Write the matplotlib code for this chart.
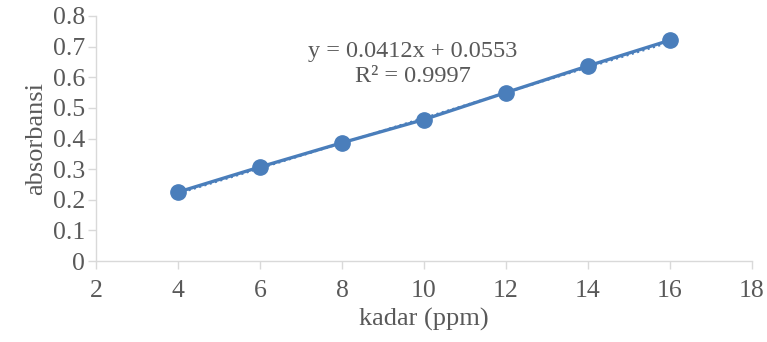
import matplotlib
matplotlib.use("Agg")
import matplotlib.pyplot as plt
import numpy as np
from matplotlib.patches import Arc

kadar = [4, 6, 8, 10, 12, 14, 16]
absorbansi = [0.225, 0.307, 0.386, 0.462, 0.550, 0.637, 0.721]
slope, intercept = 0.0412, 0.0553
eq_text = "y = 0.0412x + 0.0553\nR² = 0.9997"
xticks = [2, 4, 6, 8, 10, 12, 14, 16, 18]
yticks = [0, 0.1, 0.2, 0.3, 0.4, 0.5, 0.6, 0.7, 0.8]
ytick_labels = ["0", "0.1", "0.2", "0.3", "0.4", "0.5", "0.6", "0.7", "0.8"]

plt.rcParams['font.family'] = ['Liberation Serif', 'DejaVu Serif']
W, H = 767, 342
fig = plt.figure(figsize=(W/100, H/100), dpi=100)

# faint watermark arc
wm = fig.add_axes([0, 0, 1, 1], zorder=0)
wm.set_xlim(0, W); wm.set_ylim(H, 0); wm.axis('off')
wm.add_patch(Arc((420, 600), 720, 660, theta1=25, theta2=155, lw=18, color='#f1f1f1'))

ax = fig.add_axes([96/W, 1-261/H, (752-96)/W, (261-16)/H], zorder=1)
ax.patch.set_alpha(0)
color = '#4A7EBB'
ax.plot(kadar, absorbansi, '-o', color=color, lw=2.4, ms=11, zorder=3)
xf = np.array([kadar[0], kadar[-1]])
ax.plot(xf, slope*xf + intercept, ':', color=color, lw=1.5, zorder=2)

ax.set_xlim(2, 18)
ax.set_ylim(0, 0.8)
ax.set_xticks(xticks)
ax.set_yticks(yticks)
ax.set_yticklabels(ytick_labels)
for s in ['top', 'right']:
    ax.spines[s].set_visible(False)
for s in ['left', 'bottom']:
    ax.spines[s].set_color('#d9d9d9')
    ax.spines[s].set_linewidth(1.0)
ax.tick_params(axis='both', colors='#d9d9d9', labelcolor='#595959', labelsize=18.5,
               length=6, width=1.0, direction='out')
ax.tick_params(axis='x', pad=8)
ax.tick_params(axis='y', pad=2)
ax.set_xlabel("kadar (ppm)", fontsize=19, color='#595959', labelpad=4)
ax.set_ylabel("absorbansi", fontsize=19, color='#595959', labelpad=4)
ax.text(413/W, 1-64/H, eq_text, transform=fig.transFigure, ha='center', va='center',
        fontsize=17.5, color='#595959', linespacing=1.3)

fig.savefig("out.png", dpi=100)
